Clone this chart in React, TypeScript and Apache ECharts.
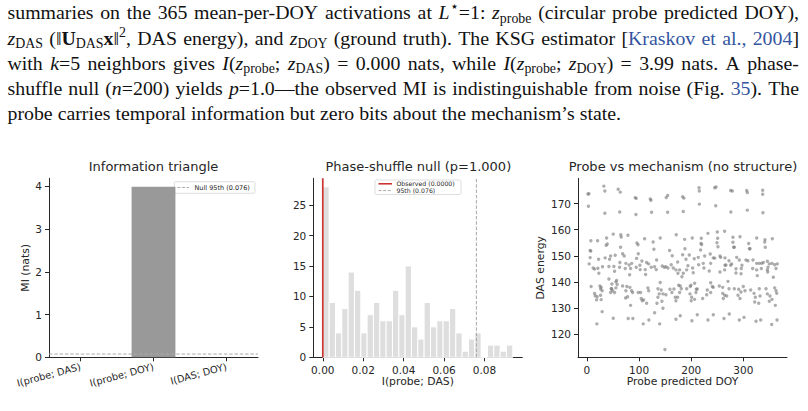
import React, { useEffect, useRef } from 'react';
import * as echarts from 'echarts';

// ---------------------------------------------------------------------------
// Data
// ---------------------------------------------------------------------------

// Information triangle: KSG mutual information between the three summaries
const MI_PAIRS = ['I(probe; DAS)', 'I(probe; DOY)', 'I(DAS; DOY)'];
const MI_VALUES = [0.0, 3.99, 0.0];
const NULL_95TH = 0.076;
const OBSERVED_MI = 0.0;

// Phase-shuffle null distribution of I(probe; DAS), n = 200, 30 bins
const HIST_RANGE = [0, 0.094];
const HIST_COUNTS = [28, 9, 4, 8, 14, 11, 4, 7, 9, 6, 6, 11, 7, 15, 5, 3, 9, 5, 6, 6, 8, 4, 1, 3, 4, 0, 2, 2, 1, 2];

// Probe predicted DOY vs DAS energy, one point per day of year
const MONTHLY_PEAKS: [number, number][] = [
  [2, 173.7], [4, 173.8], [3, 169.0],
  [32.6, 176.7], [34.5, 174.8], [34.5, 166.3],
  [60, 175.5], [64, 174.4], [63, 166.8],
  [92.7, 172.3], [94.5, 172.0], [94, 165.8],
  [121.5, 171.8], [122.8, 171.3], [124, 166.7],
  [152, 172.3], [154.8, 173.1], [154.8, 166.7],
  [183.5, 172.6], [186, 172.1], [184.8, 167.0],
  [215, 176.1], [215.6, 174.8], [215.6, 169.8],
  [245, 176.1], [247.5, 176.4], [247, 169.2],
  [275.6, 175.0], [278.8, 174.8], [276, 166.8],
  [306.4, 175.0], [307.5, 174.2], [307.5, 167.5],
  [337, 175.1], [337, 173.6], [337.5, 166.5],
];

const UPPER_BAND: [number, number][] = [
  [7.7, 155.8], [20.5, 155.8], [37.8, 156.8], [37, 154.0], [39, 154.5], [50.5, 158.3], [65, 158.1],
  [65.8, 157.2], [78.7, 157.9], [6.3, 152.0], [7.5, 151.8], [64.6, 153.3], [96, 154.9], [98, 154.2],
  [110.7, 156.5], [127, 155.3], [128.5, 152.5], [140.6, 156.8], [158.6, 152.0], [171.3, 158.1],
  [163.6, 150.0], [6.3, 149.3], [22.4, 148.7], [30, 145.8], [35, 149.2], [43.5, 148.7], [45.5, 149.9],
  [54.3, 150.2], [63.3, 147.4], [68.5, 150.8], [71.6, 149.9], [74.8, 147.1], [81, 146.5], [86, 147.1],
  [95.3, 149.0], [98.5, 150.8], [101.7, 146.4], [105.5, 148.0], [114.5, 147.4], [118.3, 146.9],
  [133.7, 148.4], [151.5, 145.8], [161.7, 146.6], [174, 147.6], [183.6, 150.4],
  [187.4, 156.3], [202, 156.8], [219.3, 156.7], [218.7, 154.7], [220, 154.3], [232, 158.6], [250, 159.1],
  [264, 159.4], [250.7, 156.7], [280, 157.1], [293.5, 157.3], [325.5, 156.8], [341.4, 156.2],
  [355.5, 156.5], [188, 152.7], [218, 152.2], [249.4, 155.0], [251.3, 153.5], [280, 155.2],
  [281.4, 153.3], [282.6, 153.3], [310.2, 154.7], [311.5, 152.7], [312.8, 152.7], [340.9, 155.3],
  [342, 153.3], [190, 148.7], [196.3, 150.3], [205.8, 148.9], [213.5, 149.4], [214.3, 146.6],
  [223.1, 147.1], [225.8, 149.9], [237.3, 147.1], [236.5, 150.7], [242.3, 149.2], [245, 149.1],
  [255.1, 149.9], [256.5, 149.4], [264.7, 149.2], [266.6, 146.5], [272.4, 148.1], [277.5, 146.9],
  [287.2, 149.4], [292.2, 148.4], [297.3, 146.4], [305, 148.4], [308.8, 148.1], [318.4, 148.4],
  [325.5, 147.1], [330.5, 147.1], [335, 147.1], [338.2, 147.4], [345.9, 147.9], [349.7, 146.9],
  [354.9, 147.1], [360, 146.6], [365, 146.9],
];

const LOWER_BAND: [number, number][] = [
  [4.4, 146.9], [12.1, 145.3], [14.8, 144.9], [21.1, 145.2], [23, 143.3],
  [42.2, 145.9], [53.1, 144.1], [51.8, 145.9], [62.7, 145.6], [73.5, 145.1], [81.9, 142.7], [83.8, 145.1],
  [94.6, 145.6], [102.2, 144.7], [112.6, 142.8], [111.8, 144.7],
  [123.4, 145.6], [129.8, 145.8], [133, 144.7], [144.4, 146.1], [148.3, 145.6], [155.4, 145.3],
  [165.6, 145.3], [174.6, 143.3], [170.7, 144.6], [177.8, 144.6],
  [42.2, 141.1], [57, 140.5], [55.6, 140.0], [58.1, 139.0], [46.6, 137.4], [48, 139.2],
  [8.2, 138.2], [25, 138.4], [27.4, 137.9], [26.3, 137.3], [29.3, 136.6],
  [14.8, 135.6], [15.9, 134.7], [19.8, 134.3], [18.6, 133.1], [26.3, 134.9], [27.4, 133.2],
  [29.3, 128.6], [19.2, 123.9],
  [45.5, 135.9], [47.4, 137.4], [49.3, 136.6], [53.1, 135.9], [55.6, 137.7],
  [68.5, 138.4], [76.7, 138.2], [82.5, 137.9], [85.7, 136.6], [74.8, 136.6], [74.2, 133.8], [78.1, 134.3],
  [87.7, 135.9], [83.8, 131.0], [50.5, 126.1], [79.2, 126.0], [88.2, 126.0],
  [98.4, 135.9], [103, 135.9], [104.2, 133.6], [108.8, 133.1], [114.5, 131.8], [106.1, 132.8],
  [117, 137.7], [118.4, 136.6], [136.2, 137.4], [138.7, 135.4], [136.2, 134.1], [134.3, 131.8],
  [145.8, 135.4], [151.5, 135.1], [143.9, 132.6], [145.8, 129.9],
  [140.6, 139.8], [142.5, 136.9], [129.8, 128.2], [108, 123.9], [118.9, 125.4], [139.5, 123.9], [149.6, 114.1],
  [159.2, 137.2], [163, 135.9], [166.9, 137.3], [169.4, 134.1], [170.7, 132.8], [174, 134.1],
  [175.9, 138.7], [179, 138.4], [177.8, 135.9], [170.7, 125.7], [179, 127.0],
  [182.2, 142.0], [184.8, 143.3], [191.3, 144.6], [193.7, 146.2], [202.7, 145.3], [203.9, 143.5],
  [224.4, 145.3], [234.6, 144.2], [255.1, 143.8], [264.1, 144.6], [264.7, 146.4], [275.6, 146.4],
  [285.8, 145.0], [296, 145.1], [295.5, 143.1], [285.8, 143.4], [317.8, 145.1], [325.5, 144.6],
  [326.7, 142.4], [334.4, 145.1], [345.9, 144.6], [347.2, 145.6], [346.6, 143.8], [357.4, 141.8], [362.6, 145.1],
  [180.9, 137.4], [191.3, 137.4],
  [198.2, 138.2], [199.5, 138.7], [197.6, 135.4], [200.8, 134.1], [200, 132.8], [206.6, 139.5],
  [209.7, 137.2], [209.1, 135.9], [206.6, 133.3], [211.6, 137.3],
  [221.9, 133.6], [229.6, 135.1], [230.8, 136.9], [237.3, 139.7], [240.4, 138.2], [242.3, 137.9], [237.3, 135.9],
  [253.8, 138.4], [260.3, 137.9], [260.3, 135.6], [264.1, 134.9], [268, 134.6], [261.5, 133.6],
  [270.5, 140.2], [272.4, 137.4],
  [282.6, 137.4], [291, 137.2], [289.7, 134.9], [293.5, 133.6], [295.4, 136.1], [299.8, 138.2],
  [303.1, 136.6], [314, 136.9],
  [320.4, 135.6], [322.9, 134.1], [321.7, 132.3], [329.4, 131.8], [330.5, 137.4], [331.9, 134.6],
  [343.4, 137.4], [345.9, 135.4], [351, 134.6], [349.7, 132.6], [354.9, 133.3], [360, 137.7],
  [362.6, 136.6], [363.9, 135.6], [361.2, 131.0],
  [201.4, 125.1], [211.6, 127.4], [232.1, 125.4], [242.3, 127.4], [262.8, 126.0], [273, 127.7],
  [292.2, 125.4], [301.2, 126.4], [324.2, 124.9], [333.2, 125.4], [354.3, 123.7], [364.5, 125.4],
];

// Tick values
const MI_TICKS = [0, 1, 2, 3, 4];
const HIST_X_TICKS = [0, 0.02, 0.04, 0.06, 0.08];
const HIST_Y_TICKS = [0, 5, 10, 15, 20, 25];
const DOY_TICKS = [0, 100, 200, 300];
const ENERGY_TICKS = [120, 130, 140, 150, 160, 170];

// Paragraph above the figure: [text, style] runs per typeset line
type Sty = 'n' | 'i' | 'b' | 'sub' | 'sup' | 'link';
type Seg = [string, Sty];
const PARAGRAPH: Seg[][] = [
  [['summaries on the 365 mean-per-DOY activations at ', 'n'], ['L', 'i'], ['\u22c6', 'sup'], ['=1: ', 'n'],
    ['z', 'i'], ['probe', 'sub'], [' (circular probe predicted DOY),', 'n']],
  [['z', 'i'], ['DAS', 'sub'], [' (\u2016', 'n'], ['U', 'b'], ['DAS', 'sub'], ['x', 'b'], ['\u2016', 'n'], ['2', 'sup'],
    [', DAS energy), and ', 'n'], ['z', 'i'], ['DOY', 'sub'], [' (ground truth). The KSG estimator [', 'n'],
    ['Kraskov et al., 2004', 'link'], [']', 'n']],
  [['with ', 'n'], ['k', 'i'], ['=5 neighbors gives ', 'n'], ['I', 'i'], ['(', 'n'], ['z', 'i'], ['probe', 'sub'],
    ['; ', 'n'], ['z', 'i'], ['DAS', 'sub'], [') = 0.000 nats, while ', 'n'], ['I', 'i'], ['(', 'n'], ['z', 'i'],
    ['probe', 'sub'], ['; ', 'n'], ['z', 'i'], ['DOY', 'sub'], [') = 3.99 nats. A phase-', 'n']],
  [['shuffle null (', 'n'], ['n', 'i'], ['=200) yields ', 'n'], ['p', 'i'],
    ['=1.0\u2014the observed MI is indistinguishable from noise (Fig. ', 'n'], ['35', 'link'], ['). The', 'n']],
  [['probe carries temporal information but zero bits about the mechanism\u2019s state.', 'n']],
];

// ---------------------------------------------------------------------------
// Styling / layout
// ---------------------------------------------------------------------------
const SANS = 'DejaVu Sans';
const SERIF = "'Liberation Serif', 'Times New Roman', 'DejaVu Serif', serif";
const INK = '#262626';
const TICK_FONT = 10.5;
const LABEL_FONT = 10.8;

const TEXT_FONT = 19.5;
const SUB_FONT = TEXT_FONT * 0.7;
const TEXT_LEFT = 7.5;
const TEXT_RIGHT = 799;
const LAST_LINE_WIDTH = 613.5;
const BASELINES = [19, 44.3, 69.5, 94.8, 120];
const LINK_COLOR = '#33559f';

const GRID_TOP = 178.3;
const GRID_H = 179;
const GRID_W = 209;
const GRID_LEFTS = [49, 313.3, 578];

const MI_X = [-0.43, 2.43];
const MI_Y = [0, 4.19];
const BAR_HALF = 0.3;
const HIST_X = [-0.0047, 0.0987];
const HIST_Y = [0, 29.4];
const DOY_X = [-17, 383.6];
const ENERGY_Y = [111.1, 179.7];

type FontSpec = { fontStyle: string; fontWeight: string; fontSize: number };
function fontSpec(s: Sty): FontSpec {
  if (s === 'i') return { fontStyle: 'italic', fontWeight: 'normal', fontSize: TEXT_FONT };
  if (s === 'b') return { fontStyle: 'normal', fontWeight: 'bold', fontSize: TEXT_FONT };
  if (s === 'sub' || s === 'sup') return { fontStyle: 'normal', fontWeight: 'normal', fontSize: SUB_FONT };
  return { fontStyle: 'normal', fontWeight: 'normal', fontSize: TEXT_FONT };
}
function cssFont(s: Sty) {
  const f = fontSpec(s);
  return `${f.fontStyle} ${f.fontWeight} ${f.fontSize}px ${SERIF}`;
}
function shiftOf(s: Sty) {
  if (s === 'sub') return TEXT_FONT * 0.2;
  if (s === 'sup') return -TEXT_FONT * 0.38;
  return 0;
}

function splitWords(line: Seg[]): Seg[][] {
  const words: Seg[][] = [];
  let cur: Seg[] = [];
  for (const [t, s] of line) {
    t.split(' ').forEach((p, k) => {
      if (k > 0) {
        if (cur.length) words.push(cur);
        cur = [];
      }
      if (p) cur.push([p, s]);
    });
  }
  if (cur.length) words.push(cur);
  return words;
}

// Typesets the paragraph as justified lines of graphic text runs
function paragraphElements() {
  const ctx = document.createElement('canvas').getContext('2d') as CanvasRenderingContext2D;
  const measure = (t: string, s: Sty) => {
    ctx.font = cssFont(s);
    return ctx.measureText(t).width;
  };
  const wordWidth = (w: Seg[]) => w.reduce((a, [t, s]) => a + measure(t, s), 0);
  const lines = PARAGRAPH.map(splitWords);
  const space = measure(' ', 'n');
  const last = lines[lines.length - 1];
  const lastNatural = last.reduce((a, w) => a + wordWidth(w), 0) + space * (last.length - 1);
  const sx = LAST_LINE_WIDTH / lastNatural;

  const els: any[] = [];
  lines.forEach((words, li) => {
    const widths = words.map((w) => wordWidth(w) * sx);
    const total = widths.reduce((a, b) => a + b, 0);
    const justify = li < lines.length - 1;
    const gap = justify ? (TEXT_RIGHT - TEXT_LEFT - total) / (words.length - 1) : space * sx;
    let x = TEXT_LEFT;
    words.forEach((w, wi) => {
      let cx = x;
      w.forEach(([t, s]) => {
        const f = fontSpec(s);
        els.push({
          type: 'text',
          x: cx,
          y: BASELINES[li] + shiftOf(s) - 0.3375 * f.fontSize,
          scaleX: sx,
          silent: true,
          style: {
            text: t,
            font: cssFont(s),
            fill: s === 'link' ? LINK_COLOR : '#111111',
            textAlign: 'left',
            textVerticalAlign: 'middle',
          },
        });
        cx += measure(t, s) * sx;
      });
      x += widths[wi] + gap;
    });
  });
  return els;
}

function sansText(text: string, x: number, y: number, size: number, align = 'center', color = INK) {
  return {
    type: 'text',
    x,
    y,
    silent: true,
    style: {
      text,
      fontFamily: SANS,
      fontSize: size,
      fill: color,
      textAlign: align,
      textVerticalAlign: 'middle',
    },
  };
}

function legendLine(x1: number, x2: number, y: number, color: string, width: number, dashed: boolean) {
  return {
    type: 'line',
    silent: true,
    shape: { x1, y1: y, x2, y2: y },
    style: { stroke: color, lineWidth: width, lineDash: dashed ? [3, 1.6] : null },
  };
}

function legendBox(x: number, y: number, width: number, height: number) {
  return {
    type: 'rect',
    silent: true,
    shape: { x, y, width, height, r: 1.5 },
    style: { fill: 'rgba(255,255,255,0.85)', stroke: '#d0d0d0', lineWidth: 0.7 },
  };
}

function valueAxis(gridIndex: number, range: number[], ticks: number[], label: any, name?: string, nameGap?: number) {
  return {
    type: 'value',
    gridIndex,
    min: range[0],
    max: range[1],
    name: name || '',
    nameLocation: 'middle',
    nameGap: nameGap || 0,
    nameMoveOverlap: false,
    nameTextStyle: { fontFamily: SANS, fontSize: LABEL_FONT, color: INK },
    axisLine: { show: true, onZero: false, lineStyle: { color: INK, width: 1 } },
    axisTick: { show: true, inside: false, length: 4, customValues: ticks, lineStyle: { color: INK, width: 1 } },
    axisLabel: {
      show: true,
      customValues: ticks,
      margin: 7,
      fontFamily: SANS,
      fontSize: TICK_FONT,
      color: INK,
      ...label,
    },
    splitLine: { show: false },
    splitArea: { show: false },
  };
}

function buildOption() {
  const binW = (HIST_RANGE[1] - HIST_RANGE[0]) / HIST_COUNTS.length;
  const histData = HIST_COUNTS.map((c, i) => [HIST_RANGE[0] + i * binW, HIST_RANGE[0] + (i + 1) * binW, c]);
  const miData = MI_VALUES.map((v, i) => [i - BAR_HALF, i + BAR_HALF, v]);

  const rectItem = (fill: string, stroke: string) => (params: any, api: any) => {
    const p0 = api.coord([api.value(0), api.value(2)]);
    const p1 = api.coord([api.value(1), 0]);
    return {
      type: 'rect',
      shape: { x: p0[0], y: p0[1], width: p1[0] - p0[0], height: p1[1] - p0[1] },
      style: { fill, stroke, lineWidth: stroke === 'none' ? 0 : 1 },
    };
  };

  return {
    animation: false,
    backgroundColor: '#ffffff',
    textStyle: { fontFamily: SANS },
    grid: GRID_LEFTS.map((left) => ({
      left,
      top: GRID_TOP,
      width: GRID_W,
      height: GRID_H,
      containLabel: false,
      outerBoundsMode: 'none',
    })),
    xAxis: [
      valueAxis(0, MI_X, [0, 1, 2], {
        rotate: 15,
        fontSize: 9.8,
        margin: 9,
        formatter: (v: number) => MI_PAIRS[Math.round(v)] || '',
      }),
      valueAxis(1, HIST_X, HIST_X_TICKS, { formatter: (v: number) => v.toFixed(2) }, 'I(probe; DAS)', 19),
      valueAxis(2, DOY_X, DOY_TICKS, { formatter: (v: number) => String(Math.round(v)) }, 'Probe predicted DOY', 19),
    ],
    yAxis: [
      valueAxis(0, MI_Y, MI_TICKS, { formatter: (v: number) => String(Math.round(v)) }, 'MI (nats)', 18),
      valueAxis(1, HIST_Y, HIST_Y_TICKS, { formatter: (v: number) => String(Math.round(v)) }),
      valueAxis(2, ENERGY_Y, ENERGY_TICKS, { formatter: (v: number) => String(Math.round(v)) }, 'DAS energy', 32.5),
    ],
    series: [
      {
        type: 'custom',
        name: 'MI',
        xAxisIndex: 0,
        yAxisIndex: 0,
        encode: { x: [0, 1], y: 2 },
        data: miData,
        renderItem: rectItem('#999999', 'none'),
        silent: true,
      },
      {
        type: 'line',
        name: 'Null 95th',
        xAxisIndex: 0,
        yAxisIndex: 0,
        data: [[MI_X[0], NULL_95TH], [MI_X[1], NULL_95TH]],
        symbol: 'none',
        lineStyle: { color: '#aaaaaa', width: 1, type: [3.5, 1.8] },
        silent: true,
      },
      {
        type: 'custom',
        name: 'Null distribution',
        xAxisIndex: 1,
        yAxisIndex: 1,
        encode: { x: [0, 1], y: 2 },
        data: histData,
        renderItem: rectItem('#dedede', '#ffffff'),
        silent: true,
      },
      {
        type: 'line',
        name: 'Observed',
        xAxisIndex: 1,
        yAxisIndex: 1,
        data: [[OBSERVED_MI, HIST_Y[0]], [OBSERVED_MI, HIST_Y[1]]],
        symbol: 'none',
        lineStyle: { color: '#cc3333', width: 1.7 },
        silent: true,
      },
      {
        type: 'line',
        name: '95th',
        xAxisIndex: 1,
        yAxisIndex: 1,
        data: [[NULL_95TH, HIST_Y[0]], [NULL_95TH, HIST_Y[1]]],
        symbol: 'none',
        lineStyle: { color: '#a8a8a8', width: 1, type: [3.5, 1.8] },
        silent: true,
      },
      {
        type: 'scatter',
        name: 'DOY vs energy',
        xAxisIndex: 2,
        yAxisIndex: 2,
        data: [...MONTHLY_PEAKS, ...UPPER_BAND, ...LOWER_BAND],
        symbol: 'circle',
        symbolSize: 3.4,
        itemStyle: { color: '#777777', opacity: 0.6 },
        silent: true,
      },
    ],
    graphic: {
      elements: [
        ...paragraphElements(),
        sansText('Information triangle', 153.5, 166.3, 13),
        sansText('Phase-shuffle null (p=1.000)', 418.3, 166.3, 13),
        sansText('Probe vs mechanism (no structure)', 683, 166.3, 13),
        legendBox(174.3, 181.7, 80.7, 11.6),
        legendLine(177.5, 189, 187.5, '#aaaaaa', 1, true),
        sansText('Null 95th (0.076)', 194.5, 187.5, 6.5, 'left'),
        legendBox(375, 180, 86, 14.5),
        legendLine(378.5, 392, 183.8, '#cc3333', 1.6, false),
        sansText('Observed (0.0000)', 396.5, 183.8, 6.2, 'left'),
        legendLine(378.5, 392, 190.6, '#aaaaaa', 1, true),
        sansText('95th (0.076)', 396.5, 190.6, 6.2, 'left'),
      ],
    },
  };
}

export default function App() {
  const ref = useRef<HTMLDivElement>(null);
  useEffect(() => {
    if (!ref.current) return;
    const chart = echarts.init(ref.current, null, { renderer: 'svg' });
    chart.setOption(buildOption() as any);
    return () => chart.dispose();
  }, []);
  return (
    <div
      ref={ref}
      style={{ position: 'fixed', left: 0, top: 0, width: 808, height: 411, background: '#ffffff' }}
    />
  );
}
